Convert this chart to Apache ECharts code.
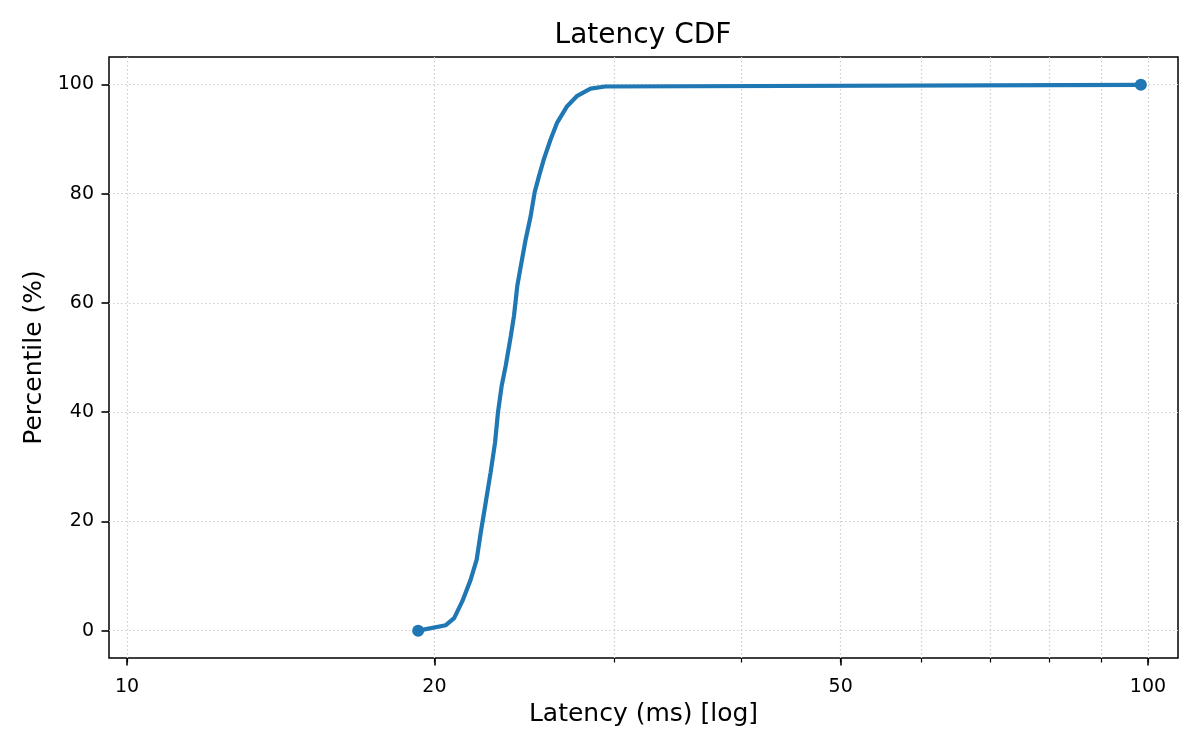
<!doctype html>
<html lang="en">
<head>
    <meta charset="UTF-8">
    <script src="https://cdn.jsdelivr.net/npm/echarts@6/dist/echarts.min.js"></script>
    <title>Latency CDF</title>
    <style>
        html, body { margin: 0; padding: 0; background: #fff; }
    </style>
</head>
<body>
<div id="main" style="width: 1200px;height:750px;"></div>
<script type="text/javascript">
    // latency (ms) and the percentile reached at that latency
    var latencyMs = [19.28, 20.52, 20.91, 21.30, 21.70, 22.0, 22.2, 22.45, 22.7, 22.93,
        23.08, 23.27, 23.49, 23.76, 23.93, 24.11, 24.30, 24.57, 24.85, 25.07,
        25.32, 25.6, 25.99, 26.38, 26.98, 27.6, 28.44, 29.4, 98.4];
    var percentile = [0, 1.0, 2.3, 5.4, 9.3, 13, 17.9, 23.4, 28.9, 34.4,
        39.9, 44.7, 48.5, 53.9, 57.6, 63.1, 66.7, 71.6, 75.9, 80.2,
        83.2, 86.3, 89.9, 93.0, 96.0, 97.9, 99.2, 99.6, 99.9];

    var xMajorTicks = [10, 20, 50, 100];
    var xAllTicks = [10, 20, 30, 40, 50, 60, 70, 80, 90, 100];
    var yTicks = [0, 20, 40, 60, 80, 100];

    var font = 'DejaVu Sans';
    var blue = '#1f77b4';

    var points = latencyMs.map(function (v, i) { return [v, percentile[i]]; });
    var last = points.length - 1;

    var myChart = echarts.init(document.getElementById('main'));

    var option = {
        animation: false,
        title: {
            text: 'Latency CDF',
            left: 638,
            top: 17,
            textAlign: 'center',
            textStyle: { fontFamily: font, fontSize: 28, fontWeight: 'normal', color: '#000' }
        },
        grid: {
            left: 109, right: 22, top: 57, bottom: 92,
            show: true, borderColor: '#000', borderWidth: 1.5, backgroundColor: 'transparent'
        },
        xAxis: [{
            type: 'log',
            logBase: 10,
            min: 9.6,
            max: 107,
            name: 'Latency (ms) [log]',
            nameLocation: 'middle',
            nameGap: 42,
            nameTextStyle: { fontFamily: font, fontSize: 25, color: '#000' },
            axisLine: { show: false, onZero: false },
            axisTick: { show: true, customValues: xAllTicks, length: 4.5, lineStyle: { color: '#000', width: 1.2 } },
            axisLabel: {
                customValues: xMajorTicks, margin: 20,
                fontFamily: font, fontSize: 19, color: '#000'
            },
            splitLine: { show: true, lineStyle: { color: '#cccccc', width: 1.2, type: [1.5, 2.5] } },
            minorTick: { show: false }
        }, {
            // second layer on the same scale, carries the longer major ticks only
            type: 'log',
            logBase: 10,
            min: 9.6,
            max: 107,
            position: 'bottom',
            axisLine: { show: false, onZero: false },
            axisTick: { show: true, customValues: xMajorTicks, length: 7.5, lineStyle: { color: '#000', width: 1.6 } },
            axisLabel: { show: false },
            splitLine: { show: false }
        }],
        yAxis: {
            type: 'value',
            min: -5,
            max: 105,
            name: 'Percentile (%)',
            nameLocation: 'middle',
            nameGap: 62,
            nameTextStyle: { fontFamily: font, fontSize: 25, color: '#000' },
            axisLine: { show: false, onZero: false },
            axisTick: { show: true, customValues: yTicks, length: 7.5, lineStyle: { color: '#000', width: 1.6 } },
            axisLabel: {
                customValues: yTicks, margin: 15,
                fontFamily: font, fontSize: 19, color: '#000'
            },
            splitLine: { show: true, lineStyle: { color: '#cccccc', width: 1.2, type: [1.5, 2.5] } }
        },
        series: [{
            type: 'line',
            data: points,
            symbol: 'none',
            smooth: false,
            lineStyle: { color: blue, width: 4.2 },
            z: 3
        }, {
            type: 'scatter',
            data: [points[0], points[last]],
            symbol: 'circle',
            symbolSize: 12,
            itemStyle: { color: blue, opacity: 1 },
            z: 4
        }]
    };

    myChart.setOption(option);
</script>
</body>
</html>
